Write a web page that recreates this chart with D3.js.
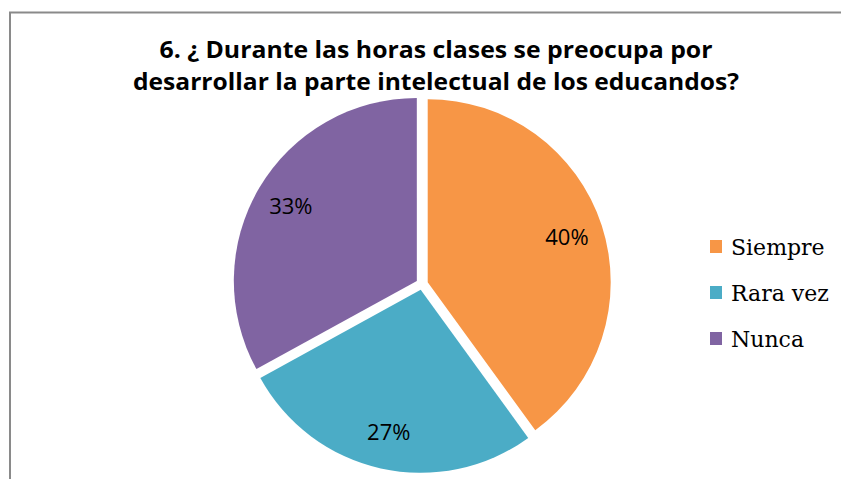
<!DOCTYPE html>
<html>
<head>
<meta charset="utf-8">
<script src="https://cdn.jsdelivr.net/npm/d3@7"></script>
<style>
  html, body { margin: 0; padding: 0; background: #fff; overflow: hidden; }
  svg { display: block; }
</style>
</head>
<body>
<div id="chart"></div>
<script>
// chart values
const categories = ["Siempre", "Rara vez", "Nunca"];
const values = [40, 27, 33];
const percentLabels = ["40%", "27%", "33%"];
const colors = ["#F79646", "#4BACC6", "#8064A2"];
const titleLines = [
	"6. ¿ Durante las horas clases se preocupa por",
	"desarrollar la parte intelectual de los educandos?"
];

const width = 841;
const height = 479;

const svg = d3.select('#chart').append('svg')
	.attr('width', width)
	.attr('height', height);

// chart frame (only left + top edges visible in the crop)
svg.append('path')
	.attr('d', `M10,${height} V12.5 H${width}`)
	.attr('fill', 'none')
	.attr('stroke', '#8a8a8a')
	.attr('stroke-width', 2);

// title
const titleWidths = [553, 606];
const titleY = [58, 90];
svg.selectAll('.title').data(titleLines)
	.enter().append('text')
	.attr('class', 'title')
	.attr('x', 436)
	.attr('y', (d, i) => titleY[i])
	.attr('text-anchor', 'middle')
	.attr('font-family', '"Liberation Sans Narrow", "Open Sans", sans-serif')
	.attr('font-weight', 'bold')
	.attr('font-size', 23)
	.attr('textLength', (d, i) => titleWidths[i])
	.attr('lengthAdjust', 'spacingAndGlyphs')
	.attr('fill', '#000')
	.text(d => d);

// pie
const cx = 422, cy = 284, r = 183, explode = 6;
const pie = d3.pie().sort(null).value(d => d);
const arcs = pie(values);
const arc = d3.arc().innerRadius(0).outerRadius(r);
const labelArc = d3.arc().innerRadius(r * 0.8).outerRadius(r * 0.8);

const g = svg.append('g').attr('transform', `translate(${cx},${cy})`);

const offset = d => {
	const a = (d.startAngle + d.endAngle) / 2;
	return [Math.sin(a) * explode, -Math.cos(a) * explode];
};

const slices = g.selectAll('.slice').data(arcs)
	.enter().append('g')
	.attr('class', 'slice')
	.attr('transform', d => `translate(${offset(d)[0]},${offset(d)[1]})`);

slices.append('path')
	.attr('d', arc)
	.attr('fill', (d, i) => colors[i]);

slices.append('text')
	.attr('transform', d => `translate(${labelArc.centroid(d)})`)
	.attr('text-anchor', 'middle')
	.attr('dy', '0.35em')
	.attr('font-family', '"Open Sans", sans-serif')
	.attr('font-size', 22)
	.attr('fill', '#000')
	.text((d, i) => percentLabels[i]);

// legend
const legend = svg.append('g').attr('transform', 'translate(710,0)');
const legendY = [255, 301, 347];
const items = legend.selectAll('.item').data(categories)
	.enter().append('g')
	.attr('class', 'item')
	.attr('transform', (d, i) => `translate(0,${legendY[i]})`);

items.append('rect')
	.attr('x', 0)
	.attr('y', -15)
	.attr('width', 12)
	.attr('height', 13)
	.attr('fill', (d, i) => colors[i]);

items.append('text')
	.attr('x', 21)
	.attr('y', 0)
	.attr('font-family', '"DejaVu Serif", serif')
	.attr('font-size', 22)
	.attr('fill', '#000')
	.text(d => d);
</script>
</body>
</html>
